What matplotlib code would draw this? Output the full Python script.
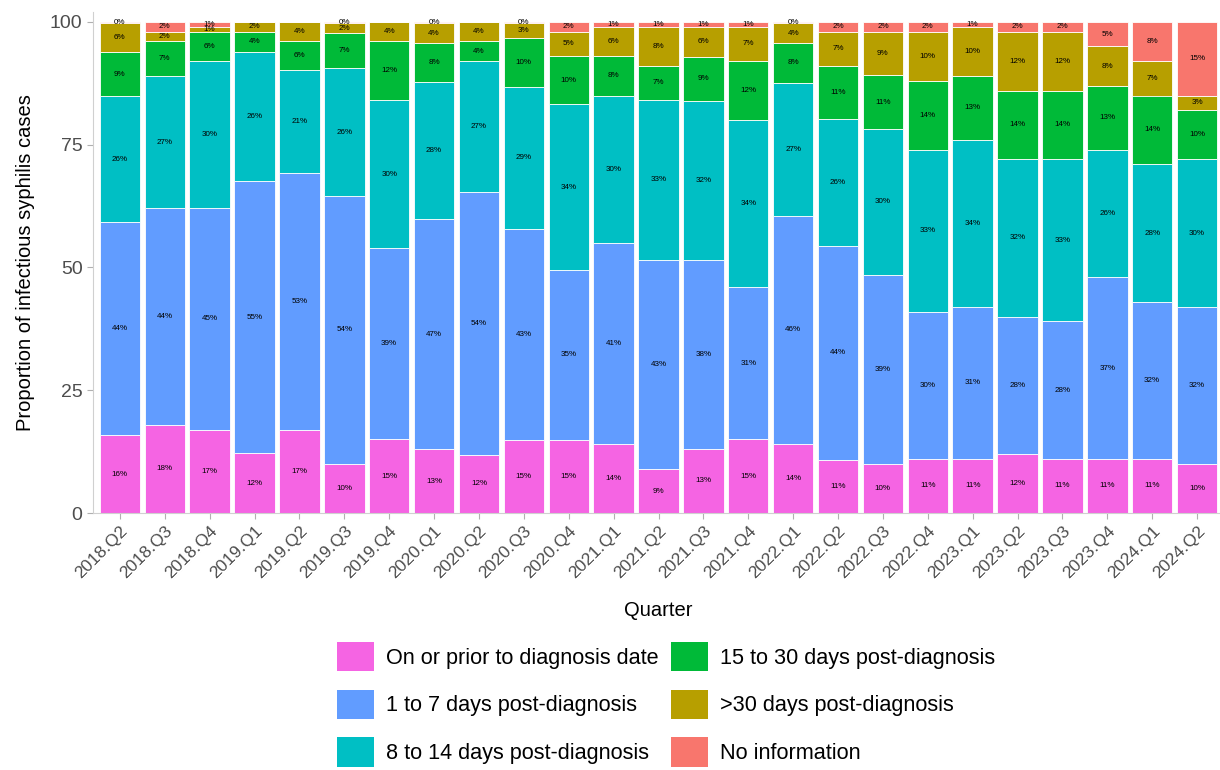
import numpy as np
import matplotlib
matplotlib.use('Agg')
import matplotlib.pyplot as plt
from matplotlib.patches import Patch

plt.rcParams['font.family'] = ['Liberation Sans', 'DejaVu Sans']

quarters = ['2018.Q2', '2018.Q3', '2018.Q4', '2019.Q1', '2019.Q2', '2019.Q3', '2019.Q4',
            '2020.Q1', '2020.Q2', '2020.Q3', '2020.Q4', '2021.Q1', '2021.Q2', '2021.Q3',
            '2021.Q4', '2022.Q1', '2022.Q2', '2022.Q3', '2022.Q4', '2023.Q1', '2023.Q2',
            '2023.Q3', '2023.Q4', '2024.Q1', '2024.Q2']

# percentage of cases per category (read from the bar labels), None = no segment
on_or_prior = [16, 18, 17, 12, 17, 10, 15, 13, 12, 15, 15, 14, 9, 13, 15, 14, 11, 10, 11, 11, 12, 11, 11, 11, 10]
days_1_7    = [44, 44, 45, 55, 53, 54, 39, 47, 54, 43, 35, 41, 43, 38, 31, 46, 44, 39, 30, 31, 28, 28, 37, 32, 32]
days_8_14   = [26, 27, 30, 26, 21, 26, 30, 28, 27, 29, 34, 30, 33, 32, 34, 27, 26, 30, 33, 34, 32, 33, 26, 28, 30]
days_15_30  = [9, 7, 6, 4, 6, 7, 12, 8, 4, 10, 10, 8, 7, 9, 12, 8, 11, 11, 14, 13, 14, 14, 13, 14, 10]
days_30plus = [6, 2, 1, 2, 4, 2, 4, 4, 4, 3, 5, 6, 8, 6, 7, 4, 7, 9, 10, 10, 12, 12, 8, 7, 3]
no_info     = [0.3, 2, 1, None, None, 0.3, None, 0.3, None, 0.3, 2, 1, 1, 1, 1, 0.3, 2, 2, 2, 1, 2, 2, 5, 8, 15]

series = [
    ('On or prior to diagnosis date', on_or_prior, '#F564E3'),
    ('1 to 7 days post-diagnosis', days_1_7, '#619CFF'),
    ('8 to 14 days post-diagnosis', days_8_14, '#00BFC4'),
    ('15 to 30 days post-diagnosis', days_15_30, '#00BA38'),
    ('>30 days post-diagnosis', days_30plus, '#B79F00'),
    ('No information', no_info, '#F8766D'),
]

raw = np.array([[np.nan if v is None else v for v in s[1]] for s in series], dtype=float)
totals = np.nansum(raw, axis=0)
props = np.nan_to_num(raw) / totals * 100

fig = plt.figure(figsize=(12.2, 7.7), dpi=100)
ax = fig.add_axes([93 / 1220, 1 - 513 / 770, (1224 - 93) / 1220, (513 - 12) / 770])

x = np.arange(len(quarters))
bottom = np.zeros(len(quarters))
for i, (name, vals, color) in enumerate(series):
    ax.bar(x, props[i], bottom=bottom, width=0.9, color=color, edgecolor='white', linewidth=0.6)
    for j in range(len(quarters)):
        if np.isnan(raw[i, j]):
            continue
        ax.text(x[j], bottom[j] + props[i, j] / 2, '%d%%' % round(raw[i, j]),
                ha='center', va='center', fontsize=5.8, color='black')
    bottom += props[i]

ax.set_xlim(-0.6, len(quarters) - 0.4)
ax.set_ylim(0, 102)
ax.set_yticks([0, 25, 50, 75, 100])
ax.set_xticks(x)
ax.set_xticklabels(quarters, rotation=45, ha='right', rotation_mode='anchor')
ax.tick_params(axis='both', colors='#B0B0B0', labelcolor='#4D4D4D', length=4)
ax.tick_params(axis='y', labelsize=14)
ax.tick_params(axis='x', labelsize=12.5)
for side in ['top', 'right']:
    ax.spines[side].set_visible(False)
for side in ['left', 'bottom']:
    ax.spines[side].set_color('#D0D0D0')
ax.set_ylabel('Proportion of infectious syphilis cases', fontsize=14.5, color='black', labelpad=11)
ax.set_xlabel('Quarter', fontsize=14.5, color='black', labelpad=14)

handles = [Patch(facecolor=c, edgecolor='none') for _, _, c in series]
fig.legend(handles, [s[0] for s in series], ncol=2, loc='upper left',
           bbox_to_anchor=(337 / 1220, 1 - 642 / 770), frameon=False, fontsize=15.6,
           handlelength=1.7, handleheight=1.7, handletextpad=0.55,
           labelspacing=0.85, columnspacing=0.6, borderpad=0, borderaxespad=0)

fig.savefig('out.png', dpi=100)
